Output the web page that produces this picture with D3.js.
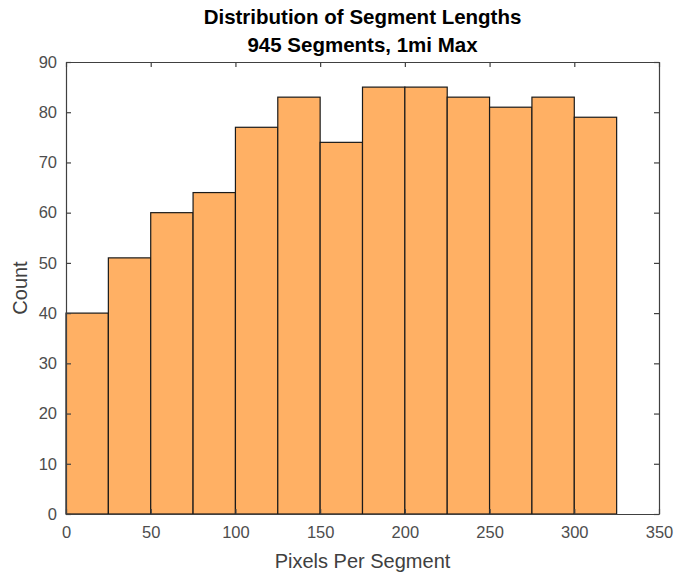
<!DOCTYPE html>
<html>
<head>
<meta charset="utf-8">
<script src="https://cdn.jsdelivr.net/npm/d3@7"></script>
<style>
  html, body { margin: 0; padding: 0; background: #fff; }
  svg { display: block; font-family: "Liberation Sans", Arial, Helvetica, sans-serif; }
</style>
</head>
<body>
<svg id="chart" width="675" height="575"></svg>
<script>
// Histogram bin edges (pixels per segment) and counts per bin
const binEdges = [0, 25, 50, 75, 100, 125, 150, 175, 200, 225, 250, 275, 300, 325];
const counts = [40, 51, 60, 64, 77, 83, 74, 85, 85, 83, 81, 83, 79];
const xTicks = [0, 50, 100, 150, 200, 250, 300, 350];
const yTicks = [0, 10, 20, 30, 40, 50, 60, 70, 80, 90];
const titleLines = ["Distribution of Segment Lengths", "945 Segments, 1mi Max"];
const xLabel = "Pixels Per Segment";
const yLabel = "Count";

const svg = d3.select("#chart");
const plot = { left: 66, right: 659, top: 62, bottom: 514 };
const axisColor = "#404040";
const tickLen = 5;

const x = d3.scaleLinear().domain([0, 350]).range([plot.left, plot.right]);
const y = d3.scaleLinear().domain([0, 90]).range([plot.bottom, plot.top]);

const bins = counts.map((c, i) => ({ x0: binEdges[i], x1: binEdges[i + 1], count: c }));

// Bars
svg.append("g")
  .selectAll("rect")
  .data(bins)
  .join("rect")
  .attr("x", d => x(d.x0))
  .attr("y", d => y(d.count))
  .attr("width", d => x(d.x1) - x(d.x0))
  .attr("height", d => y(0) - y(d.count))
  .attr("fill", "#ffb064")
  .attr("stroke", "#1a1a1a")
  .attr("stroke-width", 1.2);

// Axes with inward ticks on all four sides (boxed)
function styleAxis(g) {
  g.selectAll("path").attr("stroke", axisColor).attr("stroke-width", 1.2);
  g.selectAll("line").attr("stroke", axisColor).attr("stroke-width", 1.2);
  g.selectAll("text").attr("fill", "#4d4d4d").attr("font-size", 16.5);
}

const xAxisB = d3.axisBottom(x).tickValues(xTicks).tickSizeInner(-tickLen).tickSizeOuter(0).tickPadding(12);
svg.append("g").attr("transform", `translate(0,${plot.bottom})`).call(xAxisB).call(styleAxis);

const xAxisT = d3.axisTop(x).tickValues(xTicks).tickSizeInner(-tickLen).tickSizeOuter(0).tickFormat("");
svg.append("g").attr("transform", `translate(0,${plot.top})`).call(xAxisT).call(styleAxis);

const yAxisL = d3.axisLeft(y).tickValues(yTicks).tickSizeInner(-tickLen).tickSizeOuter(0).tickPadding(9);
svg.append("g").attr("transform", `translate(${plot.left},0)`).call(yAxisL).call(styleAxis);

const yAxisR = d3.axisRight(y).tickValues(yTicks).tickSizeInner(-tickLen).tickSizeOuter(0).tickFormat("");
svg.append("g").attr("transform", `translate(${plot.right},0)`).call(yAxisR).call(styleAxis);

// Title
const cx = (plot.left + plot.right) / 2;
svg.append("g")
  .selectAll("text")
  .data(titleLines)
  .join("text")
  .attr("x", cx)
  .attr("y", (d, i) => 24 + i * 28)
  .attr("text-anchor", "middle")
  .attr("font-size", 20.5)
  .attr("font-weight", "bold")
  .attr("fill", "#000")
  .text(d => d);

// Axis labels
svg.append("text")
  .attr("x", cx)
  .attr("y", 568)
  .attr("text-anchor", "middle")
  .attr("font-size", 20)
  .attr("fill", "#404040")
  .text(xLabel);

svg.append("text")
  .attr("transform", `translate(27,${(plot.top + plot.bottom) / 2}) rotate(-90)`)
  .attr("text-anchor", "middle")
  .attr("font-size", 20)
  .attr("fill", "#404040")
  .text(yLabel);
</script>
</body>
</html>
